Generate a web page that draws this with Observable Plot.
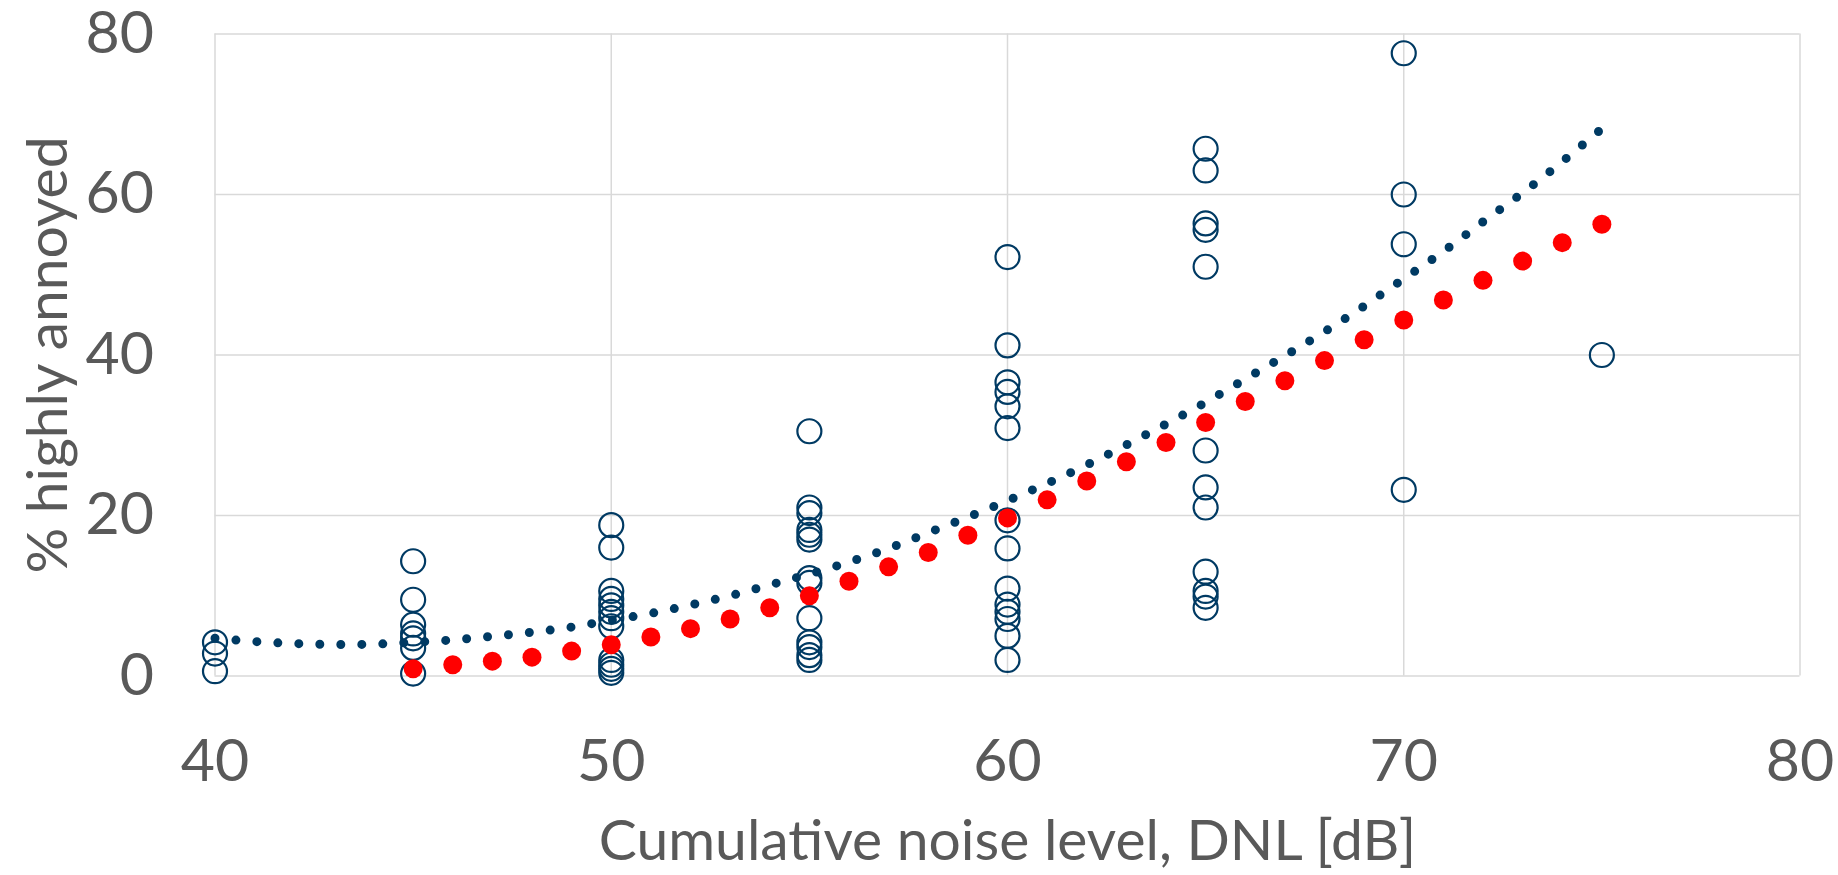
<!DOCTYPE html>
<html>
<head>
<meta charset="utf-8">
<script src="https://cdn.jsdelivr.net/npm/d3@7"></script>
<script src="https://cdn.jsdelivr.net/npm/@observablehq/plot@0.6"></script>
<style>
  html, body { margin: 0; padding: 0; background: #ffffff; }
</style>
</head>
<body>
<div id="chart"></div>
<script>
// Observed survey points (open circles)
const obsDnl = [
  40, 40, 40,
  45, 45, 45, 45, 45, 45, 45,
  50, 50, 50, 50, 50, 50, 50, 50, 50, 50, 50, 50,
  55, 55, 55, 55, 55, 55, 55, 55, 55, 55, 55, 55, 55,
  60, 60, 60, 60, 60, 60, 60, 60, 60, 60, 60, 60, 60, 60,
  65, 65, 65, 65, 65, 65, 65, 65, 65, 65, 65, 65,
  70, 70, 70, 70,
  75
];
const obsHa = [
  4.2, 2.8, 0.6,
  14.3, 9.5, 6.4, 5.3, 4.7, 3.5, 0.3,
  18.8, 16.0, 10.6, 9.6, 8.8, 8.0, 7.2, 6.2, 2.0, 1.4, 0.9, 0.4,
  30.5, 21.0, 20.3, 18.2, 17.6, 17.0, 12.2, 11.6, 7.2, 4.2, 3.6, 2.6, 2.0,
  52.2, 41.2, 36.6, 35.4, 33.6, 30.9, 19.4, 15.9, 10.9, 8.9, 8.0, 7.1, 5.0, 2.0,
  65.7, 63.0, 56.4, 55.6, 51.0, 28.1, 23.5, 21.0, 13.0, 10.6, 9.9, 8.5,
  77.6, 60.0, 53.8, 23.2,
  40.0
];

// Dose-response curve (red dots)
const curveDnl = [45, 46, 47, 48, 49, 50, 51, 52, 53, 54, 55, 56, 57, 58, 59, 60,
                  61, 62, 63, 64, 65, 66, 67, 68, 69, 70, 71, 72, 73, 74, 75];
const curveHa = [0.9, 1.4, 1.85, 2.35, 3.1, 3.9, 4.85, 5.9, 7.1, 8.5, 10.0, 11.8, 13.6, 15.4, 17.55, 19.7,
                 21.95, 24.3, 26.7, 29.1, 31.6, 34.2, 36.8, 39.3, 41.9, 44.35, 46.85, 49.3, 51.7, 54.0, 56.3];

// Fitted trendline (dotted navy line)
const trendDnl = [40, 41, 42, 43, 44, 45, 46, 47, 48, 49, 50, 51, 52, 53, 54, 55, 56, 57,
                  58, 59, 60, 61, 62, 63, 64, 65, 66, 67, 68, 69, 70, 71, 72, 73, 74, 75];
const trendHa = [4.7, 4.3, 4.05, 3.93, 3.97, 4.2, 4.5, 4.95, 5.45, 6.1, 6.95, 7.8, 8.85, 10.0, 11.35, 12.7, 14.2, 15.9,
                 17.85, 19.8, 21.85, 24.0, 26.3, 28.8, 31.4, 34.1, 37.0, 39.9, 42.9, 46.1, 49.5, 52.9, 56.6, 60.2, 64.1, 68.2];

const xTicks = [40, 50, 60, 70, 80];
const yTicks = [0, 20, 40, 60, 80];
const xTitle = "Cumulative noise level, DNL [dB]";
const yTitle = "% highly annoyed";

const navy = "#003a63";
const red = "#ff0000";
const grid = "#d9d9d9";
const textColor = "#595959";

const obs = obsDnl.map((d, i) => ({dnl: d, ha: obsHa[i]}));
const curve = curveDnl.map((d, i) => ({dnl: d, ha: curveHa[i]}));
const trend = trendDnl.map((d, i) => ({dnl: d, ha: trendHa[i]}));

const chart = Plot.plot({
  width: 1838,
  height: 875,
  marginLeft: 214.5,
  marginRight: 38.5,
  marginTop: 33.5,
  marginBottom: 199.5,
  style: {fontFamily: "Lato, 'Open Sans', sans-serif", color: textColor, background: "#ffffff"},
  x: {domain: [40, 80], ticks: xTicks},
  y: {domain: [0, 80], ticks: yTicks},
  marks: [
    Plot.gridX(xTicks, {stroke: grid, strokeOpacity: 1, strokeWidth: 1.5}),
    Plot.gridY(yTicks, {stroke: grid, strokeOpacity: 1, strokeWidth: 1.5}),
    Plot.axisX(xTicks, {tickSize: 0, tickPadding: 63, fontSize: 59, fill: textColor, label: null}),
    Plot.axisY(yTicks, {tickSize: 0, tickPadding: 61, fontSize: 59, fill: textColor, label: null}),
    Plot.text([xTitle], {frameAnchor: "bottom", textAnchor: "middle", lineAnchor: "middle", dy: 166, fontSize: 57, fill: textColor}),
    Plot.text([yTitle], {frameAnchor: "left", textAnchor: "middle", lineAnchor: "middle", dx: -166, rotate: -90, fontSize: 57, fill: textColor}),
    Plot.line(trend, {x: "dnl", y: "ha", curve: "natural", stroke: navy, strokeWidth: 9,
                      strokeDasharray: "0 21", strokeLinecap: "round"}),
    Plot.dot(obs, {x: "dnl", y: "ha", r: 12, stroke: navy, strokeWidth: 2.2, fill: "none"}),
    Plot.dot(curve, {x: "dnl", y: "ha", r: 9.5, fill: red, stroke: "none"})
  ]
});

document.getElementById("chart").appendChild(chart);
</script>
</body>
</html>
